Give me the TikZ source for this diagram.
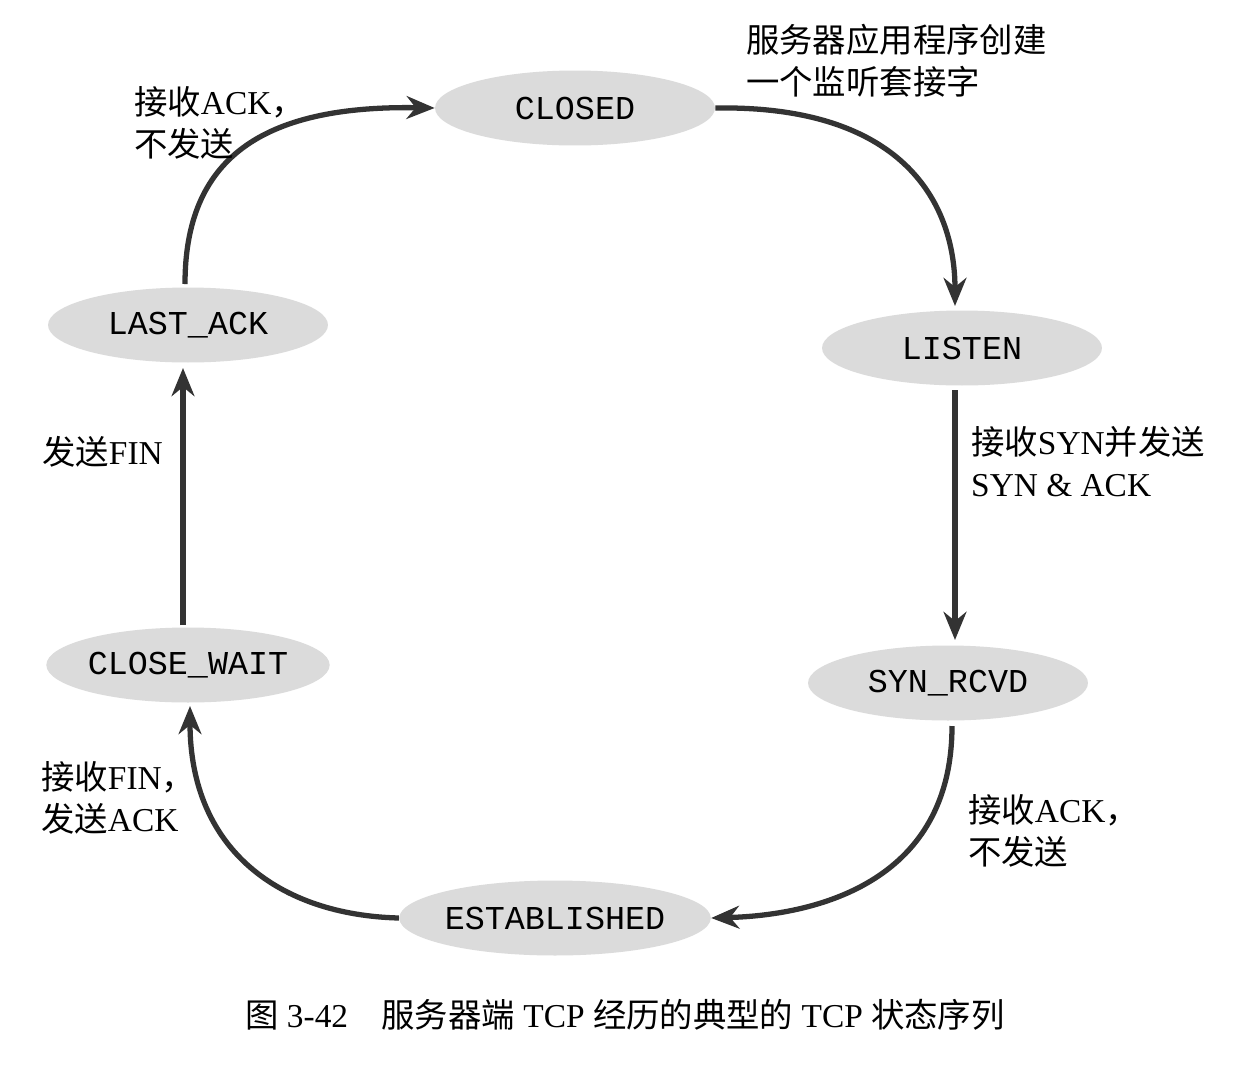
\documentclass[tikz,border=0pt]{standalone}
\usepackage{fontspec}
\setmainfont{Liberation Serif}
\setmonofont{Liberation Mono}
\newfontfamily\cjk{Noto Sans CJK SC}
\usetikzlibrary{shapes.geometric, arrows.meta}
\newcommand{\zh}[1]{{\cjk #1}}

\tikzset{
    state/.style={ellipse, fill=gray!28, minimum width=5.6cm, minimum height=1.5cm, inner sep=0pt, font=\ttfamily\fontsize{19}{22}\selectfont},
    trans/.style={line width=3pt, draw=black!80, -{Stealth[length=16pt, width=13pt]}},
    lbl/.style={anchor=north west, align=left, font=\fontsize{19}{24}\selectfont}
}

\begin{document}
\begin{tikzpicture}[x=0.02cm, y=-0.02cm]
        \useasboundingbox[fill=white] (0,0) rectangle (1242,1086);

        \node[state] (closed) at (575,108) {CLOSED};
        \node[state] (listen) at (962,348) {LISTEN};
        \node[state] (synrcvd) at (948,683) {SYN\_RCVD};
        \node[state] (estab) at (555,918) {ESTABLISHED};
        \node[state] (closewait) at (188,665) {CLOSE\_WAIT};
        \node[state] (lastack) at (188,325) {LAST\_ACK};

        \draw[trans] (closed.east) .. controls (900,105) and (955,200) .. (955,306);
        \draw[trans] (955,390) -- (955,640);
        \draw[trans] (952,726) .. controls (952,880) and (820,915) .. (estab.east);
        \draw[trans] (estab.west) .. controls (280,915) and (190,850) .. (190,706);
        \draw[trans] (183,625) -- (183,368);
        \draw[trans] (185,284) .. controls (185,160) and (260,105) .. (closed.west);

        \node[lbl] (l1) at (740,18) {\zh{服务器应用程序创建}\\\zh{一个监听套接字}};
        \node[lbl] (l2) at (128,80) {\zh{接收}ACK\zh{，}\\\zh{不发送}};
        \node[lbl] (l3) at (965,420) {\zh{接收}SYN\zh{并发送}\\SYN \& ACK};
        \node[lbl] (l4) at (962,788) {\zh{接收}ACK\zh{，}\\\zh{不发送}};
        \node[lbl] (l5) at (35,755) {\zh{接收}FIN\zh{，}\\\zh{发送}ACK};
        \node[lbl] (l6) at (36,430) {\zh{发送}FIN};

        \node[font=\fontsize{19}{22}\selectfont] (cap) at (625,1015) {\zh{图} 3-42\quad\zh{服务器端} TCP \zh{经历的典型的} TCP \zh{状态序列}};
    \end{tikzpicture}
\end{document}
